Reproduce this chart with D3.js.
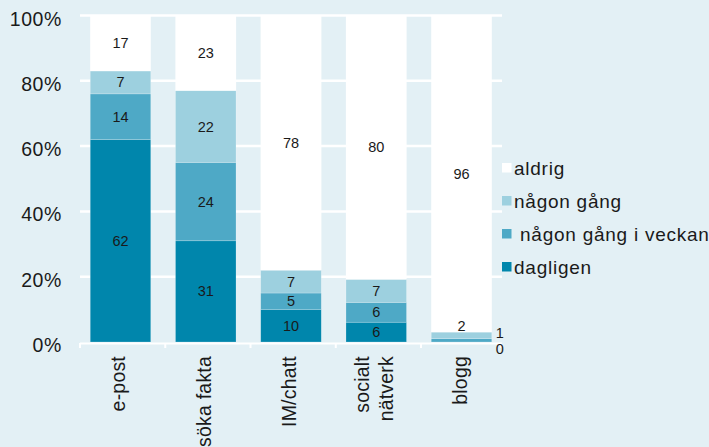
<!DOCTYPE html>
<html><head><meta charset="utf-8">
<script src="https://cdn.jsdelivr.net/npm/d3@7"></script>
<style>
html,body{margin:0;padding:0;background:#e3f0f5;}
svg{display:block;font-family:"Liberation Sans",Arial,Helvetica,sans-serif;}
</style></head><body>
<svg id="c" width="709" height="447"></svg>
<script>
const categories = [["e-post"], ["söka fakta"], ["IM/chatt"], ["socialt", "nätverk"], ["blogg"]];
const seriesNames = ["dagligen", " någon gång i veckan", "någon gång", "aldrig"];
const dagligen = [62, 31, 10, 6, 0];
const veckan = [14, 24, 5, 6, 1];
const nagonGang = [7, 22, 7, 7, 2];
const aldrig = [17, 23, 78, 80, 96];
const yTicks = [0, 20, 40, 60, 80, 100];
const colors = ["#0086ac", "#4ea9c6", "#9dd0df", "#ffffff"];

const series = [dagligen, veckan, nagonGang, aldrig];
const svg = d3.select("#c");
const W = 709, H = 447;
svg.append("rect").attr("width", W).attr("height", H).attr("fill", "#e3f0f5");

const x = d3.scaleBand().domain(d3.range(categories.length)).range([80, 502]).paddingInner(0.29).paddingOuter(0.12);
const y = d3.scaleLinear().domain([0, 100]).range([342, 15.5]);

// gridlines
svg.append("g").selectAll("line").data(yTicks.slice(1)).join("line")
  .attr("x1", 80).attr("x2", 502).attr("y1", d => y(d)).attr("y2", d => y(d))
  .attr("stroke", "#ffffff").attr("stroke-width", 2.5);

// y labels
svg.append("g").selectAll("text").data(yTicks).join("text")
  .attr("x", 62).attr("y", d => y(d) + 10).attr("text-anchor", "end")
  .attr("font-size", 19.5).attr("fill", "#1a1a1a").attr("letter-spacing", 0.6)
  .text(d => d + "%");

// stacked data
const rows = categories.map((c, i) => {
  const vals = series.map(s => s[i]);
  const total = d3.sum(vals);
  let acc = 0;
  return vals.map((v, k) => {
    const y0 = acc / total * 100; acc += v;
    const y1 = acc / total * 100;
    return {cat: i, k, v, y0, y1};
  });
});
const segs = rows.flat();

svg.append("g").selectAll("rect").data(segs).join("rect")
  .attr("x", d => x(d.cat)).attr("width", x.bandwidth())
  .attr("y", d => y(d.y1)).attr("height", d => y(d.y0) - y(d.y1))
  .attr("fill", d => colors[d.k])
  .attr("stroke", "rgba(255,255,255,0.35)").attr("stroke-width", 0.6);

// x axis line and ticks
const ax = svg.append("g");
ax.append("line").attr("x1", 80).attr("x2", 502).attr("y1", 343.5).attr("y2", 343.5)
  .attr("stroke", "#ffffff").attr("stroke-width", 2);
const bounds = d3.range(categories.length + 1).map(i => 80 + i * x.step() );
ax.selectAll("line.t").data(bounds).join("line").attr("class", "t")
  .attr("x1", d => Math.min(d, 501)).attr("x2", d => Math.min(d, 501)).attr("y1", 343).attr("y2", 348)
  .attr("stroke", "#ffffff").attr("stroke-width", 2);

// data labels
const lab = svg.append("g").attr("font-size", 14.5).attr("fill", "#1a1a1a").attr("text-anchor", "middle");
segs.forEach(d => {
  const cx = x(d.cat) + x.bandwidth() / 2;
  const top = y(d.y1), bot = y(d.y0), h = bot - top;
  let tx = cx, ty = (top + bot) / 2 + 5, anchor = "middle";
  if (d.v <= 1) {
    tx = x(d.cat) + x.bandwidth() + 4; anchor = "start";
    ty = d.v === 0 ? y(0) + 12 : (top + bot) / 2 - 2;
  } else if (h < 10) {
    ty = top - 1;
  }
  lab.append("text").attr("x", tx).attr("y", ty).attr("text-anchor", anchor).text(d.v);
});

// x category labels (rotated)
categories.forEach((lines, i) => {
  const cx = x(i) + x.bandwidth() / 2 + 5;
  const n = lines.length;
  lines.forEach((t, j) => {
    const off = (j - (n - 1) / 2) * 24;
    svg.append("text")
      .attr("transform", `translate(${cx + off},356) rotate(-90)`)
      .attr("text-anchor", "end").attr("font-size", 19.5).attr("fill", "#1a1a1a")
      .attr("letter-spacing", 0.2)
      .text(t);
  });
});

// legend
const legendOrder = [3, 2, 1, 0];
const lg = svg.append("g");
legendOrder.forEach((k, r) => {
  const cy = 168 + r * 33;
  lg.append("rect").attr("x", 502).attr("y", cy - 5).attr("width", 9.5).attr("height", 9.5)
    .attr("fill", colors[k]);
  lg.append("text").attr("x", 514).attr("y", cy + 6.5).attr("font-size", 19)
    .attr("fill", "#1a1a1a").attr("letter-spacing", 0.75).style("white-space", "pre")
    .text(seriesNames[k]);
});
</script>
</body></html>
